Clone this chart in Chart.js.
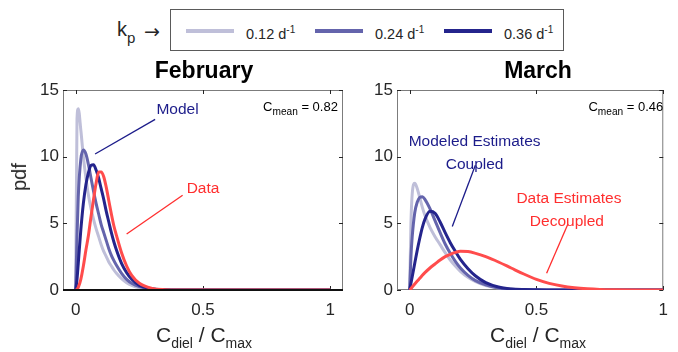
<!DOCTYPE html>
<html>
<head>
<meta charset="utf-8">
<script src="https://cdn.jsdelivr.net/npm/chart.js@4.4.0/dist/chart.umd.min.js"></script>
<style>
  body { margin: 0; width: 678px; height: 352px; position: relative; overflow: hidden; background: #fff;
         font-family: "Liberation Sans", Arial, sans-serif; color: #000; }
  .abs { position: absolute; white-space: nowrap; }
  canvas { position: absolute; top: 0; }
  .title { font-weight: bold; font-size: 23px; line-height: 23px; transform: translateX(-50%); }
  .xlab { font-size: 21px; line-height: 21px; transform: translateX(-50%); color: #262626; }
  .xlab sub { font-size: 14px; vertical-align: -6px; }
  .ylab { font-size: 20px; line-height: 20px; color: #262626; transform: translate(-50%, -50%) rotate(-90deg); }
  #legend { left: 170px; top: 9px; width: 392px; height: 40px; border: 1px solid #5a5a5a; }
  .swatch { position: absolute; top: 29px; height: 4px; width: 48px; }
  .ltxt { font-size: 14.5px; line-height: 15px; color: #262626; }
  .ltxt sup { font-size: 10px; vertical-align: 6px; }
</style>
</head>
<body>

<!-- legend -->
<div class="abs" style="left:117px; top:19px; font-size:20px; line-height:20px; color:#262626;">k<sub style="font-size:15px; vertical-align:-7px;">p</sub></div>
<div class="abs" style="left:144px; top:22px; font-family:'DejaVu Sans'; font-size:19px; line-height:19px; color:#262626;">&#8594;</div>
<div id="legend" class="abs"></div>
<div id="legendItems"></div>

<canvas id="febChart" width="350" height="352" style="left:0"></canvas>
<canvas id="marChart" width="338" height="352" style="left:340px"></canvas>

<div class="abs title" style="left:204px; top:59px;">February</div>
<div class="abs title" style="left:538px; top:59px;">March</div>
<div class="abs ylab" style="left:19px; top:177px;">pdf</div>
<div class="abs xlab" style="left:204px; top:324px;">C<sub>diel</sub> / C<sub>max</sub></div>
<div class="abs xlab" style="left:538px; top:324px;">C<sub>diel</sub> / C<sub>max</sub></div>

<script>
// ---- data ----
const kpLabels = ['0.12', '0.24', '0.36'];
const kpColors = ['#bfbfd9', '#6464ac', '#24248c'];
const dataColor = '#ff4c4c';

const xTicks = [0, 0.5, 1];
const yTicks = [0, 5, 10, 15];

// February
const febX = [0, 0.005, 0.01, 0.02, 0.03, 0.04, 0.05, 0.06, 0.07, 0.08, 0.09, 0.1, 0.11, 0.12, 0.13,
              0.14, 0.15, 0.16, 0.18, 0.2, 0.22, 0.25, 0.3, 0.35, 0.4, 0.5, 0.6, 0.7, 0.8, 0.9, 1.0];
const febKp12 = [0, 12.8, 13.6, 12.0, 10.0, 8.4, 7.1, 6.1, 5.3, 4.6, 4.0, 3.4, 2.9, 2.5, 2.1,
                 1.8, 1.5, 1.25, 0.85, 0.55, 0.35, 0.17, 0.05, 0.01, 0, 0, 0, 0, 0, 0, 0];
const febKp24 = [0, 4.0, 7.0, 9.8, 10.5, 10.2, 9.4, 8.4, 7.4, 6.5, 5.7, 4.9, 4.3, 3.7, 3.1,
                 2.6, 2.2, 1.85, 1.25, 0.8, 0.5, 0.25, 0.07, 0.02, 0, 0, 0, 0, 0, 0, 0];
const febKp36 = [0, 0.8, 2.0, 4.5, 6.5, 7.9, 8.8, 9.35, 9.4, 9.0, 8.4, 7.6, 6.8, 5.9, 5.1,
                 4.3, 3.6, 3.0, 2.0, 1.3, 0.8, 0.35, 0.08, 0.015, 0, 0, 0, 0, 0, 0, 0];
const febData = [0, 0.05, 0.2, 0.8, 1.8, 3.0, 4.1, 5.5, 6.8, 8.0, 8.85, 8.85, 8.5, 7.7, 6.7,
                 5.7, 4.8, 4.1, 2.8, 1.8, 1.1, 0.5, 0.12, 0.02, 0, 0, 0, 0, 0, 0, 0];

// March
const marX = [0, 0.005, 0.01, 0.02, 0.03, 0.04, 0.05, 0.06, 0.08, 0.1, 0.12, 0.14, 0.16, 0.18, 0.2,
              0.23, 0.26, 0.3, 0.35, 0.4, 0.45, 0.5, 0.55, 0.6, 0.65, 0.7, 0.75, 0.8, 0.9, 1.0];
const marKp12 = [0, 5.0, 7.2, 8.0, 7.6, 6.9, 6.2, 5.6, 4.7, 4.0, 3.4, 2.8, 2.25, 1.8, 1.4,
                 0.95, 0.62, 0.33, 0.14, 0.05, 0.02, 0.005, 0, 0, 0, 0, 0, 0, 0, 0];
const marKp24 = [0, 2.5, 4.0, 5.8, 6.6, 6.95, 7.0, 6.8, 6.1, 5.2, 4.3, 3.45, 2.75, 2.15, 1.65,
                 1.1, 0.7, 0.38, 0.15, 0.05, 0.02, 0.005, 0, 0, 0, 0, 0, 0, 0, 0];
const marKp36 = [0, 0.5, 1.0, 2.0, 3.0, 3.9, 4.7, 5.3, 5.9, 5.75, 5.1, 4.3, 3.55, 2.9, 2.3,
                 1.6, 1.05, 0.55, 0.22, 0.08, 0.03, 0.01, 0, 0, 0, 0, 0, 0, 0, 0];
const marData = [0, 0.1, 0.22, 0.45, 0.67, 0.88, 1.1, 1.3, 1.65, 1.95, 2.25, 2.5, 2.68, 2.82, 2.9,
                 2.88, 2.75, 2.5, 2.1, 1.65, 1.2, 0.8, 0.5, 0.3, 0.17, 0.09, 0.04, 0.015, 0, 0];

// ---- legend ----
const swatchLeft = [186, 315, 444];
const holder = document.getElementById('legendItems');
kpLabels.forEach((lab, i) => {
    const s = document.createElement('div');
    s.className = 'swatch';
    s.style.left = swatchLeft[i] + 'px';
    s.style.background = kpColors[i];
    holder.appendChild(s);
    const t = document.createElement('div');
    t.className = 'abs ltxt';
    t.style.left = (swatchLeft[i] + 60) + 'px';
    t.style.top = '22px';
    t.innerHTML = lab + ' d<sup>-1</sup>';
    holder.appendChild(t);
});

// draws a string with subscript pieces, right-aligned or centred
function drawRich(ctx, parts, x, y, align, size, color) {
    ctx.fillStyle = color;
    ctx.textBaseline = 'alphabetic';
    ctx.textAlign = 'left';
    let w = 0;
    parts.forEach(p => {
        ctx.font = (p.sub ? size * 0.78 : size) + 'px "Liberation Sans", Arial, sans-serif';
        w += ctx.measureText(p.t).width;
    });
    let cx = align === 'right' ? x - w : align === 'center' ? x - w / 2 : x;
    parts.forEach(p => {
        ctx.font = (p.sub ? size * 0.78 : size) + 'px "Liberation Sans", Arial, sans-serif';
        ctx.fillText(p.t, cx, y + (p.sub ? size * 0.32 : 0));
        cx += ctx.measureText(p.t).width;
    });
}

// Matlab style box with inward ticks, plus text/line notes in data coordinates
const axesBox = {
    id: 'axesBox',
    beforeDatasetsDraw(chart) {
        const { ctx, chartArea: a, scales: { x, y } } = chart;
        ctx.save();
        ctx.strokeStyle = '#7c7c7c';
        ctx.lineWidth = 1;
        ctx.strokeRect(a.left + 0.5, a.top + 0.5, a.width - 1, a.height - 1);
        ctx.strokeStyle = '#262626';
        ctx.beginPath();
        xTicks.forEach(v => {
            const px = Math.round(x.getPixelForValue(v)) + 0.5;
            ctx.moveTo(px, a.bottom); ctx.lineTo(px, a.bottom - 4);
            ctx.moveTo(px, a.top); ctx.lineTo(px, a.top + 4);
        });
        yTicks.forEach(v => {
            const py = Math.round(y.getPixelForValue(v)) + 0.5;
            ctx.moveTo(a.left, py); ctx.lineTo(a.left + 4, py);
            ctx.moveTo(a.right, py); ctx.lineTo(a.right - 4, py);
        });
        ctx.stroke();
        ctx.restore();
    },
    afterDatasetsDraw(chart, args, opts) {
        const { ctx, chartArea: a, scales: { x, y } } = chart;
        ctx.save();
        if (opts.zeroLine) {
            ctx.strokeStyle = '#111';
            ctx.lineWidth = 2;
            ctx.beginPath();
            ctx.moveTo(a.left, y.getPixelForValue(0));
            ctx.lineTo(a.right, y.getPixelForValue(0));
            ctx.stroke();
        }
        (opts.notes || []).forEach(n => {
            if (n.line) {
                ctx.strokeStyle = n.color;
                ctx.lineWidth = 1.3;
                ctx.beginPath();
                ctx.moveTo(x.getPixelForValue(n.line[0]), y.getPixelForValue(n.line[1]));
                ctx.lineTo(x.getPixelForValue(n.line[2]), y.getPixelForValue(n.line[3]));
                ctx.stroke();
            } else {
                drawRich(ctx, n.parts, x.getPixelForValue(n.x), y.getPixelForValue(n.y),
                         n.align, n.size, n.color);
            }
        });
        ctx.restore();
    }
};

function makePanel(id, xs, series, xMax, yAxisWidth, rightPad, opts) {
    const sets = [
        { data: series[3], color: dataColor },
        { data: series[2], color: kpColors[2] },
        { data: series[1], color: kpColors[1] },
        { data: series[0], color: kpColors[0] }
    ].map(s => ({
        data: xs.map((v, i) => ({ x: v, y: s.data[i] })),
        borderColor: s.color,
        borderWidth: 3,
        pointRadius: 0,
        fill: false,
        cubicInterpolationMode: 'monotone'
    }));

    return new Chart(document.getElementById(id).getContext('2d'), {
        type: 'line',
        data: { datasets: sets },
        options: {
            responsive: false,
            animation: false,
            layout: { padding: { top: 90, right: rightPad, left: 0, bottom: 0 } },
            plugins: { legend: { display: false }, tooltip: { enabled: false }, axesBox: opts },
            scales: {
                x: {
                    type: 'linear', min: -0.05, max: xMax,
                    afterBuildTicks: s => { s.ticks = xTicks.map(v => ({ value: v })); },
                    afterFit: s => { s.height = 62; },
                    grid: { display: false, drawTicks: false },
                    border: { display: false },
                    ticks: { padding: 10, color: '#262626', font: { size: 17, family: '"Liberation Sans", Arial' },
                             callback: v => String(v) }
                },
                y: {
                    type: 'linear', min: 0, max: 15,
                    afterBuildTicks: s => { s.ticks = yTicks.map(v => ({ value: v })); },
                    afterFit: s => { s.width = yAxisWidth; },
                    grid: { display: false, drawTicks: false },
                    border: { display: false },
                    ticks: { padding: 4, color: '#262626', font: { size: 17, family: '"Liberation Sans", Arial' } }
                }
            }
        },
        plugins: [axesBox]
    });
}

makePanel('febChart', febX, [febKp12, febKp24, febKp36, febData], 1.05, 63, 7, {
    zeroLine: true,
    notes: [
        { parts: [{ t: 'Model' }], x: 0.40, y: 13.2, align: 'center', size: 15.5, color: '#1c1c8a' },
        { line: [0.312, 12.8, 0.076, 10.2], color: '#1c1c8a' },
        { parts: [{ t: 'Data' }], x: 0.50, y: 7.3, align: 'center', size: 15.5, color: '#ff2e2e' },
        { line: [0.42, 7.1, 0.2, 4.2], color: '#ff2e2e' },
        { parts: [{ t: 'C' }, { t: 'mean', sub: true }, { t: ' = 0.82' }], x: 1.03, y: 13.4,
          align: 'right', size: 13, color: '#000' }
    ]
});

makePanel('marChart', marX, [marKp12, marKp24, marKp36, marData], 1.0, 57, 10, {
    zeroLine: false,
    notes: [
        { parts: [{ t: 'Modeled Estimates' }], x: 0.256, y: 10.8, align: 'center', size: 15.5, color: '#1c1c8a' },
        { parts: [{ t: 'Coupled' }], x: 0.256, y: 9.05, align: 'center', size: 15.5, color: '#1c1c8a' },
        { line: [0.259, 9.35, 0.168, 4.77], color: '#1c1c8a' },
        { parts: [{ t: 'Data Estimates' }], x: 0.628, y: 6.55, align: 'center', size: 15.5, color: '#ff2e2e' },
        { parts: [{ t: 'Decoupled' }], x: 0.62, y: 4.8, align: 'center', size: 15.5, color: '#ff2e2e' },
        { line: [0.624, 4.95, 0.54, 1.26], color: '#ff2e2e' },
        { parts: [{ t: 'C' }, { t: 'mean', sub: true }, { t: ' = 0.46' }], x: 1.0, y: 13.4,
          align: 'right', size: 13, color: '#000' }
    ]
});
</script>
</body>
</html>
